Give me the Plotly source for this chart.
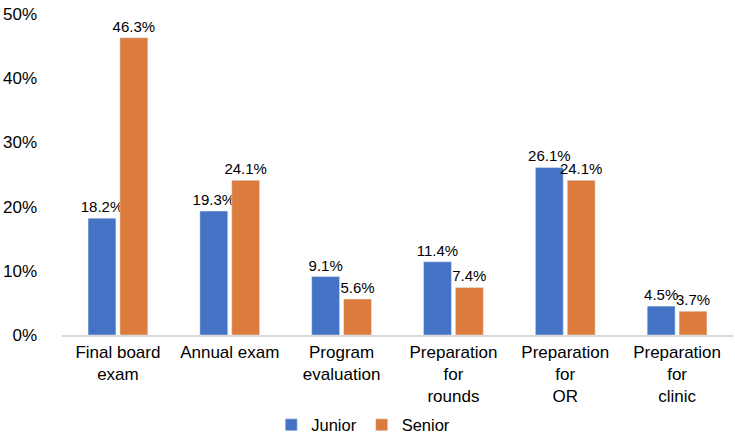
import plotly.graph_objects as go

categories = ["Final board<br>exam", "Annual exam", "Program<br>evaluation",
              "Preparation<br>for<br>rounds", "Preparation<br>for<br>OR", "Preparation<br>for<br>clinic"]
junior = [18.2, 19.3, 9.1, 11.4, 26.1, 4.5]
senior = [46.3, 24.1, 5.6, 7.4, 24.1, 3.7]
y_ticks = [0, 10, 20, 30, 40, 50]

font = "Liberation Sans, Arial, sans-serif"

fig = go.Figure()
fig.add_trace(go.Bar(name="Junior", x=categories, y=junior, marker_color="#4472C4",
                     text=[f"{v:.1f}%" for v in junior], textposition="outside",
                     constraintext="none",
                     textfont=dict(size=15, color="#000000"), cliponaxis=False))
fig.add_trace(go.Bar(name="Senior", x=categories, y=senior, marker_color="#DB7C3C",
                     text=[f"{v:.1f}%" for v in senior], textposition="outside",
                     constraintext="none",
                     textfont=dict(size=15, color="#000000"), cliponaxis=False))

fig.update_layout(
    width=735, height=441,
    margin=dict(l=62, r=2, t=14, b=106, autoexpand=False),
    paper_bgcolor="white", plot_bgcolor="white",
    barmode="group", bargap=0.43, bargroupgap=0.125,
    font=dict(family=font, size=17, color="#000000"),
    showlegend=True,
    legend=dict(orientation="h", xref="container", yref="container",
                x=0.369, xanchor="left", y=0.036, yanchor="middle",
                font=dict(size=16.5), itemwidth=30, tracegroupgap=0),
)
fig.update_xaxes(showline=True, linecolor="#D9D9D9", linewidth=1.5, ticks="",
                 tickfont=dict(size=17), showgrid=False, automargin=False,
                 ticklabelstandoff=1)
fig.update_yaxes(range=[0, 50], tickvals=y_ticks, ticktext=[f"{v}%" for v in y_ticks],
                 showgrid=False, zeroline=False, showline=False, ticks="",
                 tickfont=dict(size=17), ticklabelstandoff=24, automargin=False,
                 ticklabeloverflow="allow")

fig.write_html("out.html", config={"displayModeBar": False},
               post_script="document.body.style.margin='0';")
